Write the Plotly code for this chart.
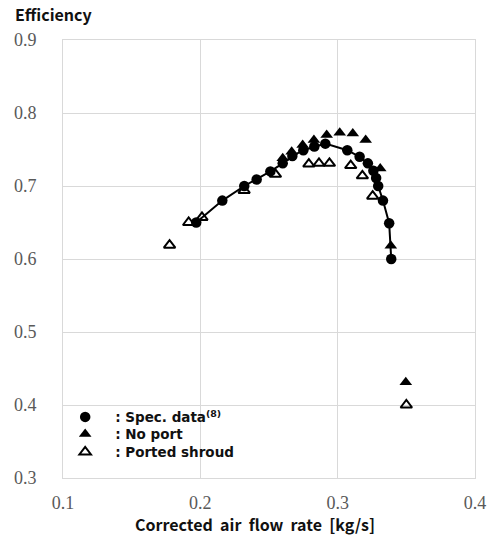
import plotly.graph_objects as go

# Spec. data (circles with line)
spec_x = [0.197, 0.216, 0.232, 0.241, 0.251, 0.260, 0.267, 0.275, 0.283, 0.291,
          0.307, 0.316, 0.322, 0.326, 0.328, 0.3295, 0.333, 0.3375, 0.339]
spec_y = [0.650, 0.680, 0.700, 0.709, 0.720, 0.731, 0.741, 0.749, 0.754, 0.758,
          0.749, 0.740, 0.731, 0.721, 0.711, 0.700, 0.680, 0.649, 0.600]

# No port (filled triangles)
noport_x = [0.260, 0.2665, 0.2745, 0.2827, 0.292, 0.3015, 0.311, 0.3204, 0.331, 0.3387, 0.3496]
noport_y = [0.738, 0.747, 0.756, 0.763, 0.770, 0.773, 0.772, 0.763, 0.724, 0.618, 0.431]

# Ported shroud (open triangles)
ported_x = [0.1776, 0.1915, 0.2012, 0.2319, 0.2547, 0.279, 0.2864, 0.2940, 0.3095, 0.318, 0.3255, 0.3500]
ported_y = [0.619, 0.650, 0.657, 0.694, 0.716, 0.730, 0.731, 0.731, 0.728, 0.714, 0.686, 0.400]

x_ticks = [0.1, 0.2, 0.3, 0.4]
x_ticklabels = ["0.1", "0.2", "0.3", "0.4"]
y_ticks = [0.3, 0.4, 0.5, 0.6, 0.7, 0.8, 0.9]
y_ticklabels = ["0.3", "0.4", "0.5", "0.6", "0.7", "0.8", "0.9"]

SANS = "Noto Sans CJK KR, Noto Sans, sans-serif"
LEGFONT = "DejaVu Sans, sans-serif"
SERIF = "Liberation Serif, Times New Roman, serif"
NB = "\u00a0"

fig = go.Figure()
# line through spec data (no legend entry)
fig.add_trace(go.Scatter(
    x=spec_x, y=spec_y, mode="lines", showlegend=False,
    line=dict(color="black", width=2), hoverinfo="skip",
))
fig.add_trace(go.Scatter(
    x=spec_x, y=spec_y, mode="markers", legend="legend",
    name="<b>:" + NB + "Spec." + NB + "data<sup>(8)</sup></b>",
    marker=dict(symbol="circle", size=10.5, color="black"),
))
fig.add_trace(go.Scatter(
    x=noport_x, y=noport_y, mode="markers", legend="legend2",
    name="<b>:" + NB + "No" + NB + "port</b>",
    marker=dict(symbol="triangle-up", size=11, color="black"),
))
fig.add_trace(go.Scatter(
    x=ported_x, y=ported_y, mode="markers", legend="legend3",
    name="<b>:" + NB + "Ported" + NB + "shroud</b>",
    marker=dict(symbol="triangle-up-open", size=10, color="black",
                line=dict(width=2, color="black")),
))

leg_common = dict(
    x=-0.019, xanchor="left", yanchor="middle",
    bgcolor="rgba(0,0,0,0)", borderwidth=0,
    font=dict(family=LEGFONT, size=13.5, color="#111111"),
    itemwidth=50,
)

fig.update_layout(
    width=490, height=541,
    margin=dict(l=63, r=15, t=40, b=63),
    paper_bgcolor="white", plot_bgcolor="white",
    showlegend=True,
    legend=dict(leg_common, y=0.139),
    legend2=dict(leg_common, y=0.100),
    legend3=dict(leg_common, y=0.059),
    xaxis=dict(
        range=[0.1, 0.4], tickvals=x_ticks, ticktext=x_ticklabels,
        showgrid=True, gridcolor="#d9d9d9", gridwidth=1,
        showline=True, linecolor="#d9d9d9", mirror=True,
        zeroline=False, automargin=False,
        ticks="outside", ticklen=8, tickcolor="rgba(0,0,0,0)",
        tickfont=dict(family=SERIF, size=18, color="#595959"),
    ),
    yaxis=dict(
        range=[0.3, 0.9], tickvals=y_ticks, ticktext=y_ticklabels,
        showgrid=True, gridcolor="#d9d9d9", gridwidth=1,
        showline=True, linecolor="#d9d9d9", mirror=True,
        zeroline=False, automargin=False,
        ticks="outside", ticklen=22, tickcolor="rgba(0,0,0,0)",
        tickfont=dict(family=SERIF, size=18, color="#595959"),
    ),
    annotations=[
        dict(text="<b>Efficiency</b>", xref="paper", yref="paper",
             x=-0.122, y=1.0, xanchor="left", yanchor="bottom", yshift=12,
             showarrow=False, font=dict(family=SANS, size=16, color="#111111")),
        dict(text="<b>Corrected" + NB + NB + "air" + NB + NB + "flow" + NB + NB + "rate" + NB + NB + "[kg/s]</b>",
             xref="paper", yref="paper",
             x=0.465, y=0.0, xanchor="center", yanchor="top", yshift=-32,
             showarrow=False, font=dict(family=SANS, size=16, color="#111111")),
    ],
)

fig.write_html(
    "out.html",
    config={"displayModeBar": False},
    post_script="document.body.style.margin='0';document.body.style.overflow='hidden';",
)
